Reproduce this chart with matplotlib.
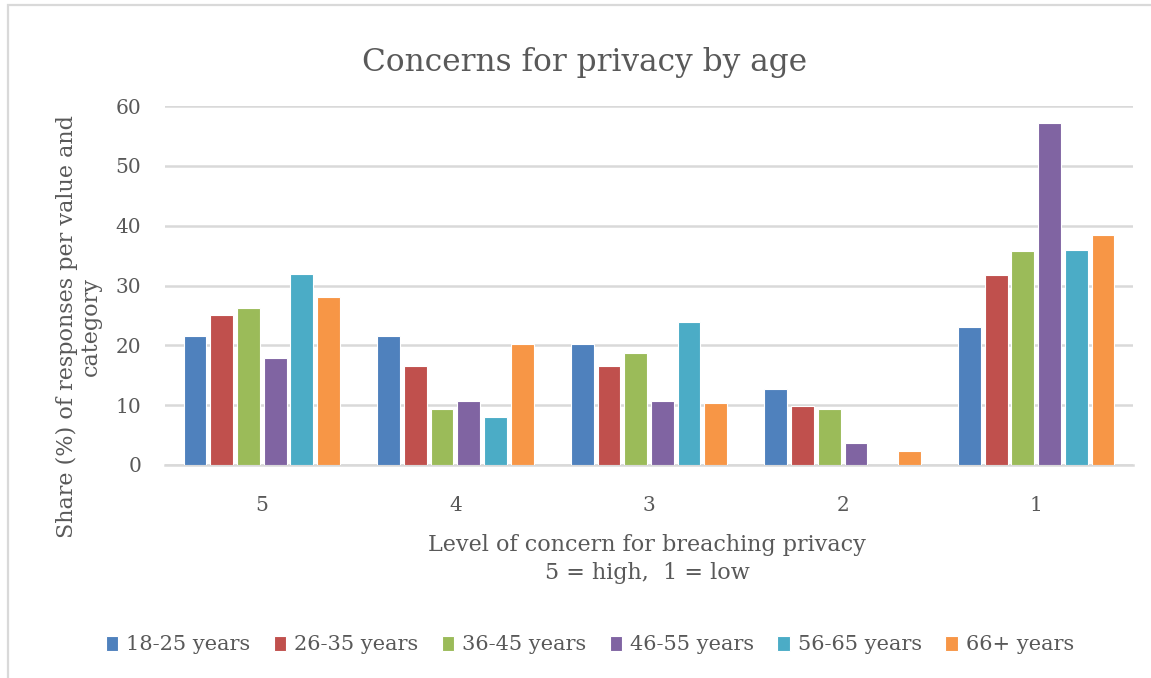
import numpy as np
import matplotlib.pyplot as plt
from matplotlib.patches import Rectangle

# concern level on the x axis, 5 = high down to 1 = low
levels = ['5', '4', '3', '2', '1']
age_groups = ['18-25 years', '26-35 years', '36-45 years',
              '46-55 years', '56-65 years', '66+ years']

# share (%) of responses per level, one list per age group
share_18_25 = [21.6, 21.6, 20.3, 12.7, 23.0]
share_26_35 = [25.0, 16.5, 16.5, 9.8, 31.7]
share_36_45 = [26.3, 9.3, 18.7, 9.3, 35.7]
share_46_55 = [17.8, 10.7, 10.7, 3.6, 57.1]
share_56_65 = [32.0, 8.0, 23.9, 0.0, 36.0]
share_66_up = [28.1, 20.3, 10.3, 2.4, 38.4]

series = [share_18_25, share_26_35, share_36_45,
          share_46_55, share_56_65, share_66_up]
colors = ['#4F81BD', '#C0504D', '#9BBB59', '#8064A2', '#4BACC6', '#F79646']

text_col = '#595959'
grid_col = '#D9D9D9'
plt.rcParams['font.family'] = ['DejaVu Serif']

W, H = 1151, 678
fig = plt.figure(figsize=(W / 100, H / 100), dpi=100)
ax = fig.add_axes([165 / W, 1 - 465 / H, (1133 - 165) / W, (465 - 106) / H])

x = np.arange(len(levels))
step = 0.138
handles = []
for i, (vals, col, name) in enumerate(zip(series, colors, age_groups)):
    b = ax.bar(x + (i - 2.5) * step, vals, width=0.118, color=col,
               edgecolor='white', linewidth=0.8, label=name, zorder=3)
    handles.append(b)

ax.set_xlim(-0.5, len(levels) - 0.5)
ax.set_ylim(0, 60)
ax.set_yticks(range(0, 61, 10))
ax.set_xticks(x)
ax.set_xticklabels(levels)
ax.yaxis.grid(True, color=grid_col, linewidth=1.8, zorder=0)
for s in ['left', 'right', 'top']:
    ax.spines[s].set_visible(False)
ax.spines['bottom'].set_color(grid_col)
ax.spines['bottom'].set_linewidth(1.8)
ax.tick_params(axis='y', length=0, pad=17, labelsize=14.5, labelcolor=text_col)
ax.tick_params(axis='x', length=0, pad=22, labelsize=14.5, labelcolor=text_col)

fig.text(585 / W, 1 - 62 / H, 'Concerns for privacy by age', ha='center',
         va='center', fontsize=22.5, color=text_col)
fig.text(79 / W, 1 - 327 / H, 'Share (%) of responses per value and\ncategory',
         rotation=90, ha='center', va='center', multialignment='center',
         fontsize=16, color=text_col, linespacing=1.15)
fig.text(647 / W, 1 - 559 / H,
         'Level of concern for breaching privacy\n5 = high,  1 = low',
         ha='center', va='center', multialignment='center',
         fontsize=16, color=text_col, linespacing=1.3)

fig.legend(handles=handles, loc='center', bbox_to_anchor=(590 / W, 1 - 645 / H),
           ncol=6, frameon=False, fontsize=15, labelcolor=text_col,
           handlelength=0.6, handleheight=0.7, handletextpad=0.4,
           columnspacing=1.1)

# light frame around the chart area
fig.patches.append(Rectangle((8 / W, -0.1), 1.2, 1 - 5 / H + 0.1,
                             transform=fig.transFigure, fill=False,
                             edgecolor=grid_col, linewidth=1.6))

fig.savefig('out.png', dpi=100)
